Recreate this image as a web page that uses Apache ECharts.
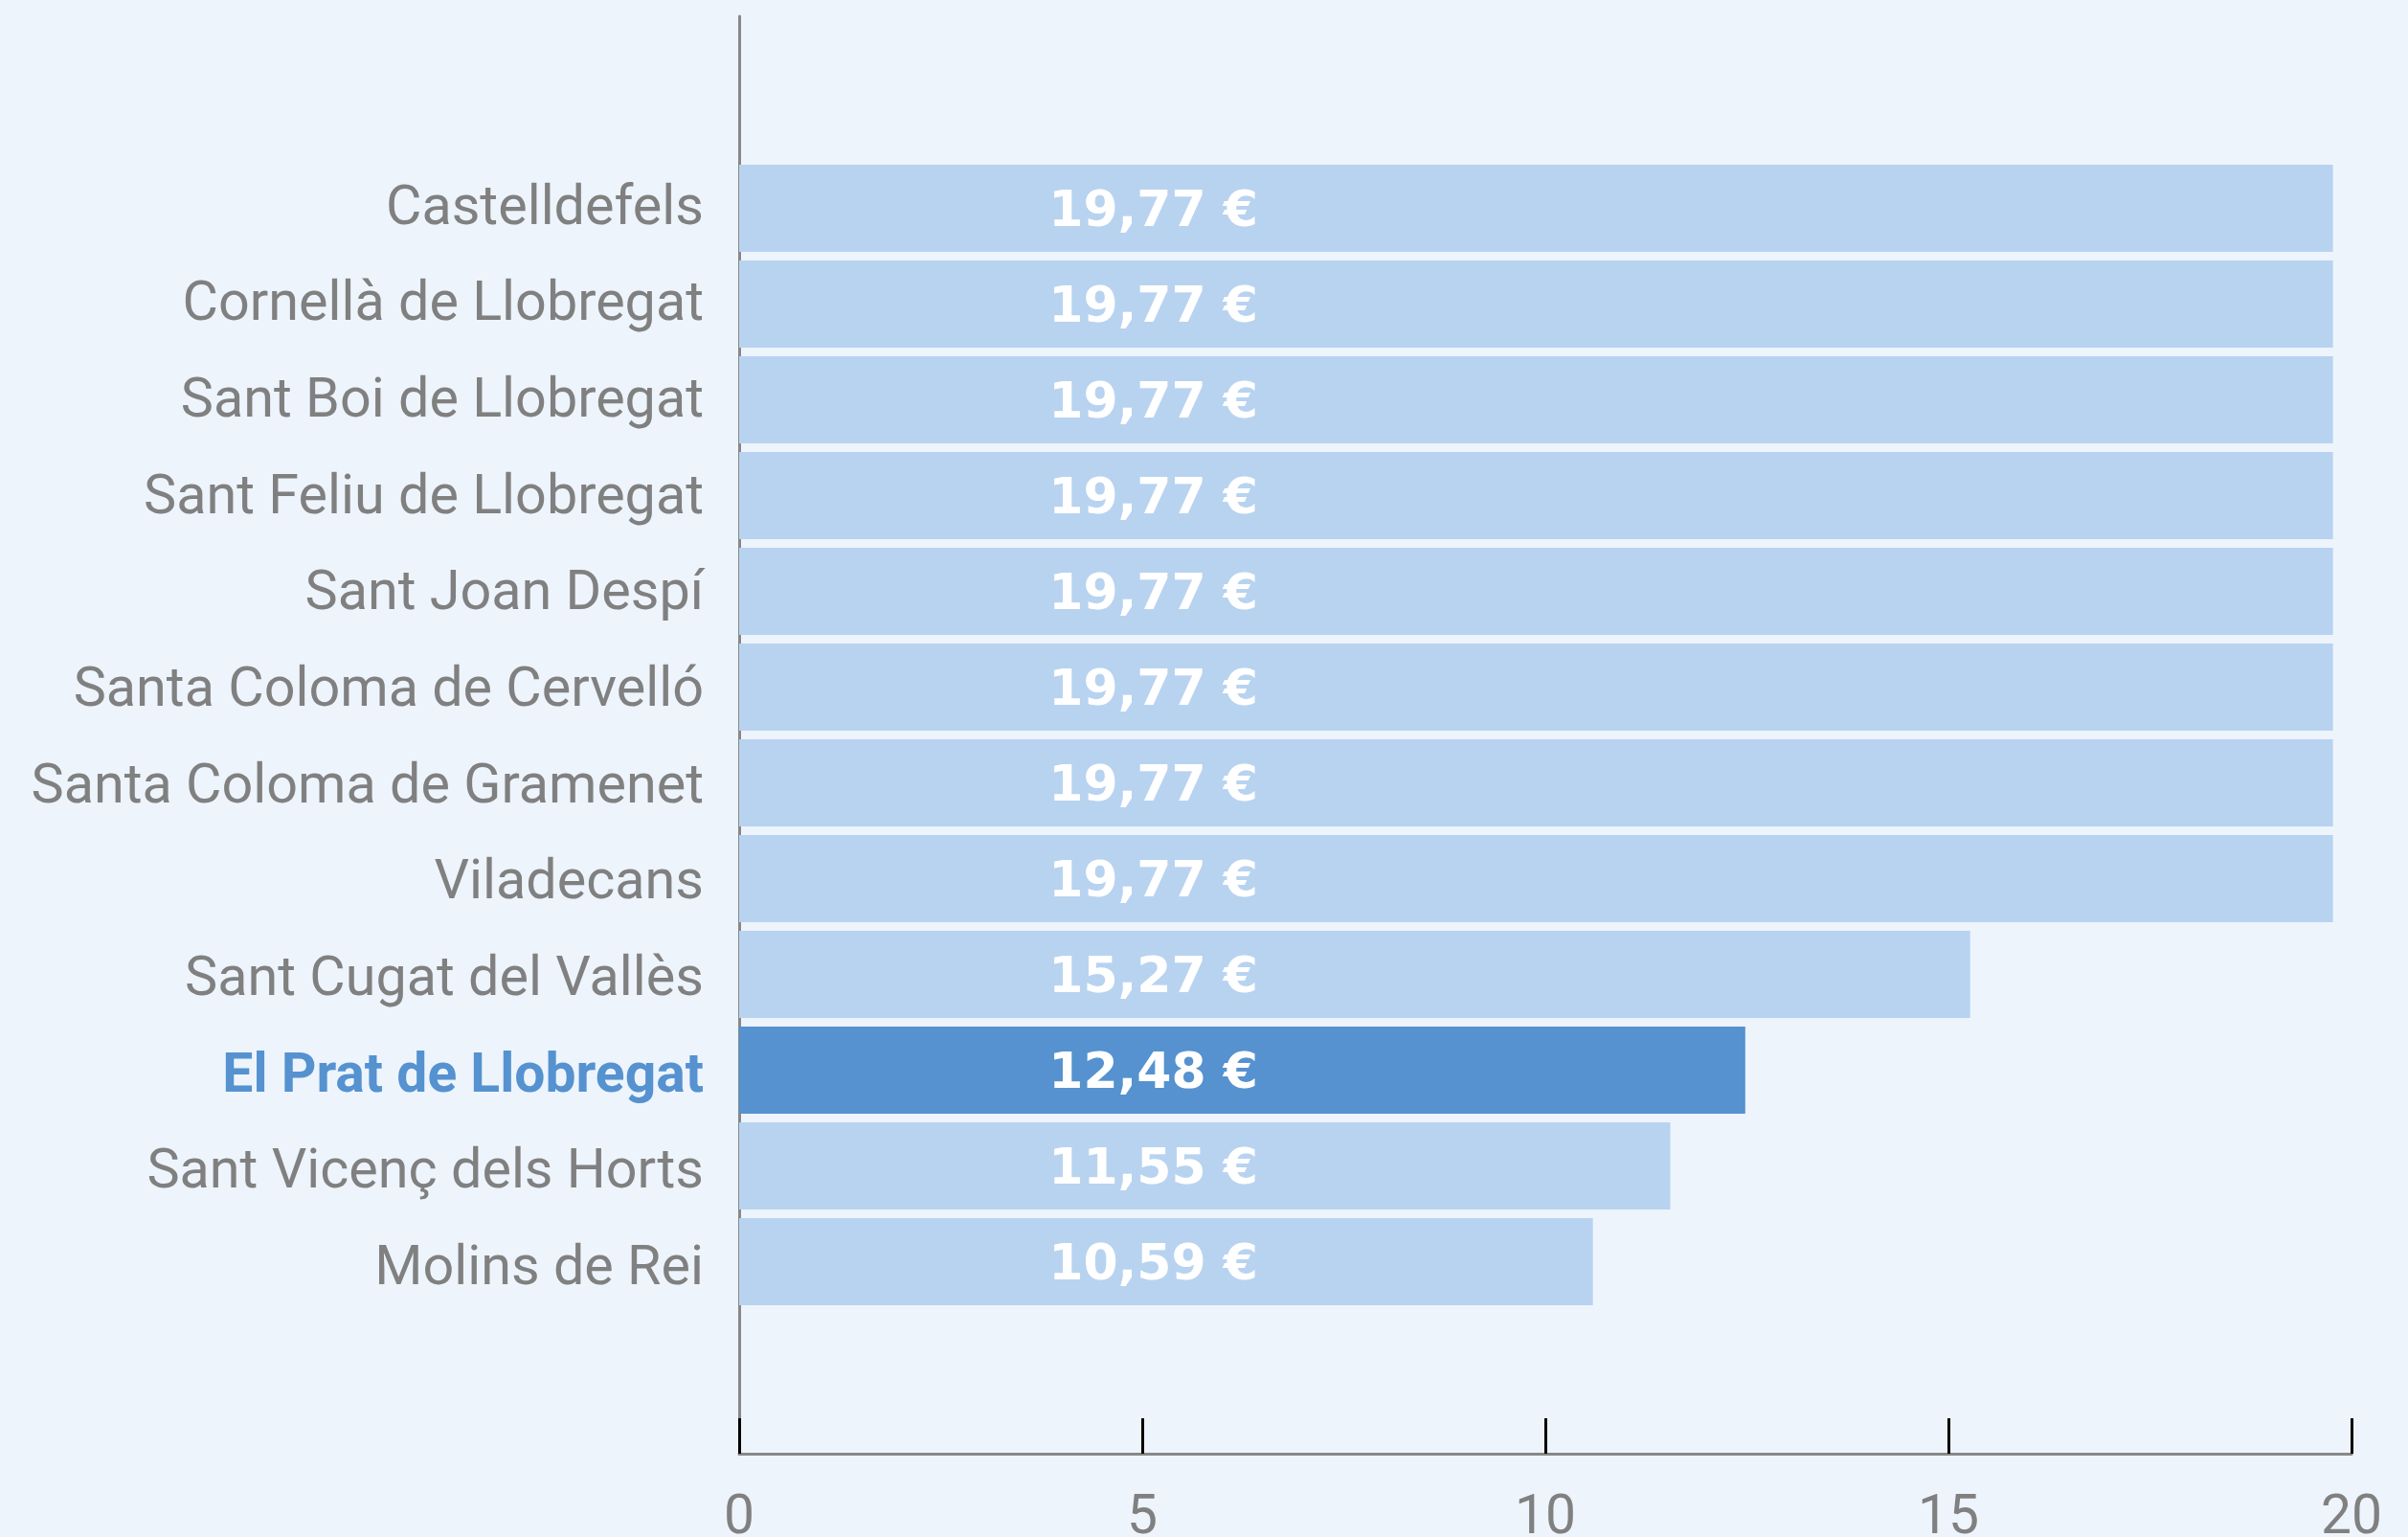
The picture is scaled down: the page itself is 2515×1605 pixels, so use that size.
<!DOCTYPE html>
<html>
<head>
<meta charset="utf-8">
<script src="https://cdn.jsdelivr.net/npm/echarts@6/dist/echarts.min.js"></script>
<style>
  html, body { margin: 0; padding: 0; background: #edf4fc; }
  #chart { width: 2515px; height: 1605px; }
</style>
</head>
<body>
<div id="chart"></div>
<script>
var municipis = [
  'Castelldefels',
  'Cornellà de Llobregat',
  'Sant Boi de Llobregat',
  'Sant Feliu de Llobregat',
  'Sant Joan Despí',
  'Santa Coloma de Cervelló',
  'Santa Coloma de Gramenet',
  'Viladecans',
  'Sant Cugat del Vallès',
  'El Prat de Llobregat',
  'Sant Vicenç dels Horts',
  'Molins de Rei'
];
var preus = [19.77, 19.77, 19.77, 19.77, 19.77, 19.77, 19.77, 19.77, 15.27, 12.48, 11.55, 10.59];
var xTicks = [0, 5, 10, 15, 20];
var destacat = 'El Prat de Llobregat';

var gris = '#808080';
var blauClar = '#b8d3f0';
var blauFosc = '#5592cf';

var myChart = echarts.init(document.getElementById('chart'));

var barData = preus.map(function(v, i) {
  return {
    value: v,
    itemStyle: { color: municipis[i] === destacat ? blauFosc : blauClar }
  };
});

var option = {
  backgroundColor: '#edf4fc',
  animation: false,
  grid: [
    // frame with the axis lines and the x ticks
    { left: 772, right: 59, top: 17, height: 1501, outerBoundsMode: 'none' },
    // bars
    { left: 772, right: 59, top: 167.5, height: 1200, outerBoundsMode: 'none' },
    // municipality names (spaced a bit wider than the bars in the original)
    { left: 772, right: 59, top: 169, height: 1208, outerBoundsMode: 'none' }
  ],
  xAxis: [
    {
      gridIndex: 0,
      type: 'value',
      min: xTicks[0],
      max: xTicks[xTicks.length - 1],
      interval: 5,
      axisLine: { show: true, lineStyle: { color: '#888888', width: 3 } },
      axisTick: { show: true, inside: true, length: 37, lineStyle: { color: '#000000', width: 3 } },
      splitLine: { show: false },
      axisLabel: {
        color: gris,
        fontFamily: 'Roboto',
        fontSize: 57,
        margin: 40
      }
    },
    { gridIndex: 1, type: 'value', min: 0, max: 20, show: false },
    { gridIndex: 2, type: 'value', min: 0, max: 20, show: false }
  ],
  yAxis: [
    {
      gridIndex: 0,
      type: 'value',
      min: 0,
      max: 1,
      axisLine: { show: true, lineStyle: { color: '#888888', width: 3 } },
      axisTick: { show: false },
      axisLabel: { show: false },
      splitLine: { show: false }
    },
    {
      gridIndex: 1,
      type: 'category',
      inverse: true,
      data: municipis,
      axisLine: { show: false },
      axisTick: { show: false },
      axisLabel: { show: false }
    },
    {
      gridIndex: 2,
      type: 'category',
      inverse: true,
      data: municipis,
      axisLine: { show: false },
      axisTick: { show: false },
      axisLabel: {
        margin: 37,
        fontFamily: 'Roboto',
        fontSize: 57.5,
        color: gris,
        formatter: function(name) {
          return name === destacat ? '{hl|' + name + '}' : name;
        },
        rich: {
          hl: {
            color: blauFosc,
            fontWeight: 'bold',
            fontFamily: 'Roboto',
            fontSize: 57
          }
        }
      }
    }
  ],
  series: [{
    type: 'bar',
    xAxisIndex: 1,
    yAxisIndex: 1,
    barCategoryGap: '9%',
    data: barData,
    label: {
      show: true,
      position: [542, '50%'],
      offset: [0, 5],
      align: 'right',
      verticalAlign: 'middle',
      color: '#ffffff',
      fontFamily: 'DejaVu Sans',
      fontWeight: 'bold',
      fontSize: 52,
      formatter: function(p) {
        return p.value.toFixed(2).replace('.', ',') + ' €';
      }
    }
  }]
};

myChart.setOption(option);
</script>
</body>
</html>
